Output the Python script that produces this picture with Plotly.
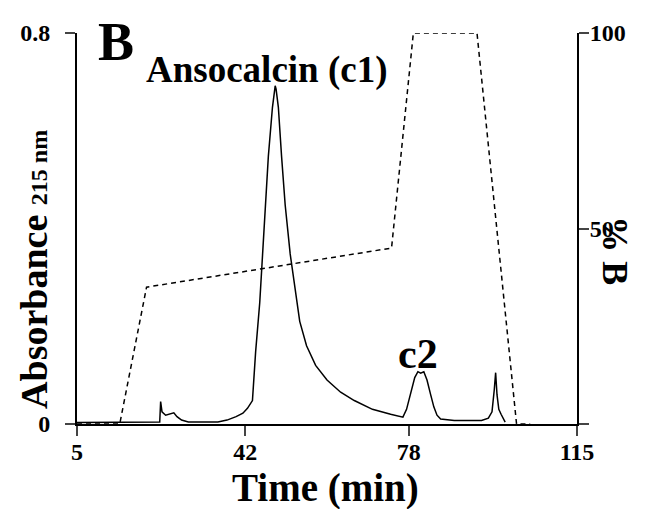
import plotly.graph_objects as go

# Chromatogram (absorbance at 215 nm) vs time (min)
time_abs = [5, 23.2, 23.4, 23.7, 24.5, 25.5, 26.3, 27, 28, 29.5, 36, 38, 40, 41.5, 42.5, 43.6,
            44.3, 45.2, 45.8, 46.5, 47.1, 48.0, 48.4, 48.6, 48.8, 49.3, 50.0, 50.8, 51.9,
            53.0, 54.0, 55.5, 57.5, 60, 63, 66, 70, 74, 76.7,
            77.5, 78.5, 79.3, 80.0, 80.6, 81.3, 82.0, 82.8, 83.5, 84.2, 85, 88, 94,
            95.5, 96.3, 96.8, 97.1, 97.4, 97.8, 98.3, 98.8, 99.2]
absorb = [0.003, 0.004, 0.046, 0.025, 0.018, 0.020, 0.023, 0.015, 0.008, 0.004, 0.004, 0.008, 0.015, 0.022, 0.032, 0.048,
          0.148, 0.248, 0.348, 0.448, 0.548, 0.648, 0.680, 0.692, 0.685, 0.648, 0.548, 0.448, 0.348,
          0.270, 0.210, 0.160, 0.120, 0.090, 0.065, 0.048, 0.030, 0.020, 0.014,
          0.030, 0.065, 0.095, 0.107, 0.104, 0.107, 0.090, 0.060, 0.035, 0.018, 0.010, 0.007, 0.007,
          0.012, 0.025, 0.070, 0.105, 0.060, 0.030, 0.020, 0.010, 0.004]

# Gradient (% B) vs time
time_grad = [5, 14.4, 20.3, 74.2, 79, 93, 101.7, 104.7]
pct_b = [0, 0, 35, 45, 100, 100, 0, 0]

x_ticks = [5, 42, 78, 115]
y_ticks = [0, 0.8]
y_ticktext = ["0", "0.8"]
y2_ticks = [0, 50, 100]
y2_ticktext = ["", "50", "100"]

FONT = "Liberation Serif"

fig = go.Figure()
fig.add_trace(go.Scatter(x=time_abs, y=absorb, mode="lines",
                         line=dict(color="black", width=1.5), showlegend=False))
fig.add_trace(go.Scatter(x=time_grad, y=pct_b, mode="lines", yaxis="y2",
                         line=dict(color="black", width=1.5, dash="5px,4px"), showlegend=False))

tickfont = dict(family=FONT, size=24, color="black", weight="bold")

# page body has an 8px margin, so the figure is shrunk by 8px on each axis
fig.update_layout(
    width=647, height=501,
    margin=dict(l=65, r=78, t=16, b=85),
    paper_bgcolor="white", plot_bgcolor="white",
    xaxis=dict(range=[5, 115], tickvals=x_ticks, ticks="outside", ticklen=10, tickwidth=2,
               showline=True, linewidth=2, linecolor="black", showgrid=False, zeroline=False,
               tickfont=tickfont, ticklabelstandoff=-5),
    yaxis=dict(range=[0, 0.8], tickvals=y_ticks, ticktext=y_ticktext, ticks="outside", ticklen=10,
               tickwidth=2, showline=True, linewidth=2, linecolor="black", showgrid=False,
               zeroline=False, tickfont=tickfont, ticklabelstandoff=10),
    yaxis2=dict(range=[0, 100], tickvals=y2_ticks, ticktext=y2_ticktext, ticks="outside", ticklen=10,
                tickwidth=2, showline=True, linewidth=2, linecolor="black", showgrid=False,
                zeroline=False, overlaying="y", side="right", tickfont=tickfont,
                ticklabelstandoff=-4),
)

def px(xp):
    return (xp - 73) / 504

def py(yp):
    return (424 - yp) / 400

annots = [
    dict(text="B", x=px(112), y=py(33), size=54),
    dict(text="Ansocalcin (c1)", x=px(265), y=py(62), size=37),
    dict(text="c2", x=px(417), y=py(352), size=42),
    dict(text="Time (min)", x=px(323), y=py(489), size=39),
]
for a in annots:
    fig.add_annotation(text=a["text"], x=a["x"], y=a["y"], xref="paper", yref="paper",
                       showarrow=False, xanchor="center", yanchor="middle",
                       font=dict(family=FONT, size=a["size"], color="black", weight="bold"))

fig.add_annotation(text="Absorbance <span style='font-size:24px'>215 nm</span>",
                   x=px(29), y=py(266), xref="paper", yref="paper", showarrow=False,
                   textangle=-90, xanchor="center", yanchor="middle",
                   font=dict(family=FONT, size=38, color="black", weight="bold"))
fig.add_annotation(text="% B", x=px(615), y=py(247), xref="paper", yref="paper", showarrow=False,
                   textangle=90, xanchor="center", yanchor="middle",
                   font=dict(family=FONT, size=36, color="black", weight="bold"))

fig.write_html("out.html")
